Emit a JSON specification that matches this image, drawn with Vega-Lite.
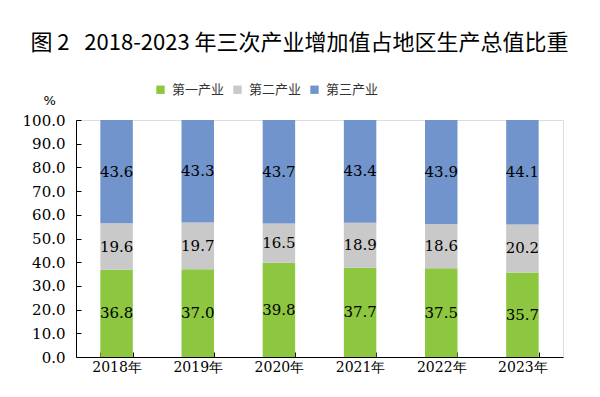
{
  "$schema": "https://vega.github.io/schema/vega-lite/v6.json",
  "autosize": "none",
  "width": 487,
  "height": 237,
  "padding": {"left": 76, "top": 120, "right": 37, "bottom": 40},
  "background": "white",
  "title": {
    "text": "图 2\u00a0\u00a0\u00a02018-2023 年三次产业增加值占地区生产总值比重",
    "font": "Noto Sans CJK SC",
    "fontSize": 22,
    "fontWeight": 400,
    "color": "#000000",
    "anchor": "middle",
    "frame": "group",
    "dx": -20,
    "offset": 28
  },
  "data": {
    "values": [
      {"year": "2018年", "type": "第一产业", "k": 1, "value": 36.8},
      {"year": "2018年", "type": "第二产业", "k": 2, "value": 19.6},
      {"year": "2018年", "type": "第三产业", "k": 3, "value": 43.6},
      {"year": "2019年", "type": "第一产业", "k": 1, "value": 37.0},
      {"year": "2019年", "type": "第二产业", "k": 2, "value": 19.7},
      {"year": "2019年", "type": "第三产业", "k": 3, "value": 43.3},
      {"year": "2020年", "type": "第一产业", "k": 1, "value": 39.8},
      {"year": "2020年", "type": "第二产业", "k": 2, "value": 16.5},
      {"year": "2020年", "type": "第三产业", "k": 3, "value": 43.7},
      {"year": "2021年", "type": "第一产业", "k": 1, "value": 37.7},
      {"year": "2021年", "type": "第二产业", "k": 2, "value": 18.9},
      {"year": "2021年", "type": "第三产业", "k": 3, "value": 43.4},
      {"year": "2022年", "type": "第一产业", "k": 1, "value": 37.5},
      {"year": "2022年", "type": "第二产业", "k": 2, "value": 18.6},
      {"year": "2022年", "type": "第三产业", "k": 3, "value": 43.9},
      {"year": "2023年", "type": "第一产业", "k": 1, "value": 35.7},
      {"year": "2023年", "type": "第二产业", "k": 2, "value": 20.2},
      {"year": "2023年", "type": "第三产业", "k": 3, "value": 44.1}
    ]
  },
  "encoding": {
    "x": {
      "field": "year",
      "type": "nominal",
      "sort": null,
      "scale": {"paddingInner": 0.6, "paddingOuter": 0.3},
      "axis": {
        "title": null,
        "labelAngle": 0,
        "labelFont": "DejaVu Serif",
        "labelFontSize": 14,
        "labelColor": "#000000",
        "labelPadding": 8,
        "domainColor": "#000000",
        "tickColor": "#000000",
        "tickSize": -5,
        "tickBand": "extent"
      }
    },
    "y": {
      "field": "value",
      "type": "quantitative",
      "stack": "zero",
      "scale": {"domain": [0, 100]},
      "axis": {
        "values": [0, 10, 20, 30, 40, 50, 60, 70, 80, 90, 100],
        "format": ".1f",
        "grid": false,
        "title": "%",
        "titleAngle": 0,
        "titleX": -33,
        "titleY": -20,
        "titleAlign": "left",
        "titleBaseline": "middle",
        "titleFont": "DejaVu Sans",
        "titleFontSize": 13,
        "titleFontWeight": "normal",
        "titleColor": "#000000",
        "labelFont": "DejaVu Serif",
        "labelFontSize": 15,
        "labelColor": "#000000",
        "labelPadding": 16,
        "domainColor": "#000000",
        "tickColor": "#000000",
        "tickSize": -5
      }
    },
    "order": {"field": "k", "type": "quantitative"}
  },
  "layer": [
    {
      "mark": {"type": "bar"},
      "encoding": {
        "color": {
          "field": "type",
          "type": "nominal",
          "sort": ["第一产业", "第二产业", "第三产业"],
          "scale": {
            "domain": ["第一产业", "第二产业", "第三产业"],
            "range": ["#8DC63F", "#C9C9C9", "#7094CB"]
          },
          "legend": {
            "title": null,
            "orient": "none",
            "direction": "horizontal",
            "legendX": 78,
            "legendY": -37,
            "symbolType": "square",
            "symbolSize": 70,
            "symbolStrokeWidth": 0,
            "symbolOffset": 0,
            "labelFont": "Noto Sans CJK SC",
            "labelFontSize": 13,
            "labelColor": "#333333",
            "labelOffset": 5,
            "columnPadding": 6,
            "padding": 0
          }
        }
      }
    },
    {
      "mark": {"type": "text", "font": "DejaVu Serif", "fontSize": 15, "color": "#000000", "baseline": "middle"},
      "encoding": {
        "y": {"field": "value", "type": "quantitative", "stack": "zero", "bandPosition": 0.5},
        "text": {"field": "value", "type": "quantitative", "format": ".1f"}
      }
    }
  ]
}
